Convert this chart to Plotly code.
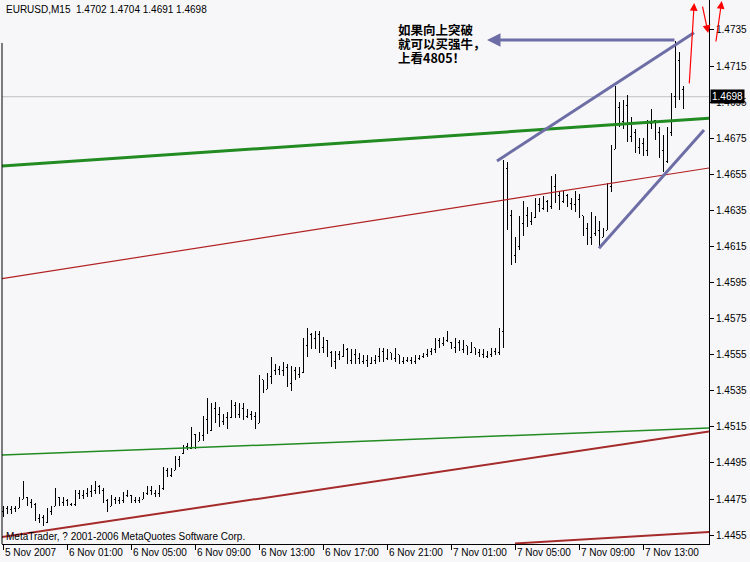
import pandas as pd
import plotly.graph_objects as go

# ---------------- data (EURUSD M15, bars from 5 Nov 2007 21:00) ----------------
start_time = "2007-11-05 21:00"

opens = [
    1.4468,1.4470,1.4469,1.4470,1.4470,1.4475,1.4476,1.4473,1.4472,1.4464,
    1.4465,1.4462,1.4468,1.4471,1.4476,1.4473,1.4474,1.4472,1.4472,1.4478,
    1.4477,1.4478,1.4479,1.4480,1.4482,1.4480,1.4474,1.4471,1.4475,1.4474,
    1.4474,1.4477,1.4477,1.4474,1.4474,1.4475,1.4478,1.4480,1.4478,1.4478,
    1.4481,1.4491,1.4488,1.4491,1.4497,1.4500,1.4504,1.4503,1.4511,1.4507,
    1.4510,1.4519,1.4513,1.4525,1.4522,1.4518,1.4520,1.4520,1.4527,1.4522,
    1.4525,1.4521,1.4522,1.4521,1.4517,1.4541,1.4536,1.4543,1.4546,1.4547,
    1.4546,1.4548,1.4539,1.4546,1.4544,1.4545,1.4560,1.4566,1.4564,1.4566,
    1.4559,1.4563,1.4556,1.4551,1.4555,1.4554,1.4558,1.4552,1.4555,1.4553,
    1.4551,1.4552,1.4550,1.4552,1.4554,1.4557,1.4553,1.4556,1.4553,1.4555,
    1.4551,1.4552,1.4552,1.4551,1.4553,1.4554,1.4555,1.4557,1.4558,1.4563,
    1.4561,1.4563,1.4562,1.4559,1.4562,1.4558,1.4560,1.4556,1.4559,1.4556,
    1.4555,1.4554,1.4555,1.4557,1.4556,1.4568,1.4658,1.4632,1.4610,1.4615,
    1.4628,1.4632,1.4629,1.4631,1.4638,1.4636,1.4640,1.4637,1.4648,1.4643,
    1.4640,1.4643,1.4639,1.4638,1.4641,1.4632,1.4625,1.4620,1.4622,1.4624,
    1.4620,1.4624,1.4648,1.4669,1.4692,1.4684,1.4693,1.4676,1.4678,1.4670,
    1.4672,1.4668,1.4683,1.4685,1.4678,1.4668,1.4662,1.4678,1.4698,1.4718,
    1.4702,
]
highs = [
    1.4471,1.4471,1.4471,1.4471,1.4476,1.4485,1.4476,1.4475,1.4473,1.4467,
    1.4466,1.4470,1.4471,1.4481,1.4476,1.4476,1.4475,1.4473,1.4480,1.4480,
    1.4480,1.4481,1.4483,1.4485,1.4483,1.4481,1.4475,1.4477,1.4476,1.4476,
    1.4479,1.4480,1.4477,1.4476,1.4476,1.4479,1.4482,1.4482,1.4480,1.4483,
    1.4493,1.4492,1.4492,1.4499,1.4499,1.4505,1.4506,1.4515,1.4511,1.4512,
    1.4521,1.4531,1.4528,1.4529,1.4526,1.4522,1.4523,1.4530,1.4529,1.4528,
    1.4528,1.4525,1.4524,1.4523,1.4544,1.4541,1.4545,1.4554,1.4550,1.4549,
    1.4551,1.4550,1.4549,1.4548,1.4548,1.4564,1.4570,1.4567,1.4568,1.4568,
    1.4565,1.4563,1.4557,1.4557,1.4557,1.4561,1.4559,1.4558,1.4558,1.4556,
    1.4555,1.4555,1.4554,1.4555,1.4559,1.4559,1.4558,1.4556,1.4559,1.4555,
    1.4554,1.4554,1.4554,1.4555,1.4555,1.4556,1.4558,1.4559,1.4564,1.4564,
    1.4565,1.4568,1.4562,1.4564,1.4563,1.4563,1.4560,1.4562,1.4559,1.4558,
    1.4558,1.4557,1.4559,1.4559,1.4570,1.4663,1.4662,1.4635,1.4620,1.4632,
    1.4640,1.4637,1.4634,1.4642,1.4642,1.4643,1.4641,1.4654,1.4655,1.4646,
    1.4646,1.4644,1.4642,1.4646,1.4644,1.4632,1.4628,1.4634,1.4632,1.4629,
    1.4625,1.4650,1.4671,1.4704,1.4695,1.4696,1.4699,1.4687,1.4680,1.4675,
    1.4675,1.4685,1.4691,1.4685,1.4681,1.4677,1.4681,1.4700,1.4729,1.4723,
    1.4704,
]
lows = [
    1.4465,1.4467,1.4467,1.4468,1.4470,1.4475,1.4471,1.4470,1.4463,1.4462,
    1.4460,1.4462,1.4466,1.4471,1.4471,1.4471,1.4471,1.4471,1.4471,1.4475,
    1.4475,1.4476,1.4476,1.4478,1.4478,1.4473,1.4468,1.4471,1.4472,1.4472,
    1.4473,1.4476,1.4473,1.4473,1.4473,1.4475,1.4477,1.4477,1.4476,1.4476,
    1.4480,1.4487,1.4487,1.4491,1.4493,1.4500,1.4502,1.4503,1.4503,1.4507,
    1.4507,1.4511,1.4513,1.4517,1.4515,1.4516,1.4514,1.4520,1.4520,1.4520,
    1.4519,1.4520,1.4519,1.4514,1.4517,1.4534,1.4536,1.4539,1.4544,1.4544,
    1.4543,1.4537,1.4535,1.4541,1.4542,1.4545,1.4554,1.4558,1.4558,1.4556,
    1.4556,1.4554,1.4548,1.4547,1.4552,1.4554,1.4550,1.4550,1.4550,1.4550,
    1.4550,1.4548,1.4550,1.4550,1.4551,1.4551,1.4552,1.4552,1.4551,1.4550,
    1.4550,1.4551,1.4550,1.4550,1.4552,1.4553,1.4554,1.4555,1.4556,1.4559,
    1.4560,1.4562,1.4558,1.4556,1.4557,1.4556,1.4555,1.4556,1.4555,1.4554,
    1.4553,1.4553,1.4554,1.4555,1.4555,1.4559,1.4624,1.4605,1.4606,1.4613,
    1.4621,1.4626,1.4627,1.4631,1.4634,1.4635,1.4634,1.4636,1.4639,1.4635,
    1.4639,1.4637,1.4635,1.4634,1.4631,1.4621,1.4616,1.4616,1.4621,1.4615,
    1.4620,1.4624,1.4645,1.4669,1.4681,1.4680,1.4673,1.4673,1.4667,1.4666,
    1.4665,1.4665,1.4680,1.4674,1.4664,1.4656,1.4661,1.4676,1.4692,1.4696,
    1.4691,
]
closes = [
    1.4470,1.4469,1.4470,1.4470,1.4475,1.4478,1.4473,1.4472,1.4464,1.4465,
    1.4462,1.4468,1.4470,1.4477,1.4473,1.4474,1.4472,1.4472,1.4478,1.4477,
    1.4478,1.4479,1.4480,1.4482,1.4480,1.4474,1.4471,1.4475,1.4474,1.4474,
    1.4477,1.4477,1.4474,1.4474,1.4475,1.4478,1.4480,1.4478,1.4478,1.4481,
    1.4491,1.4488,1.4490,1.4497,1.4498,1.4504,1.4503,1.4512,1.4505,1.4510,
    1.4519,1.4513,1.4525,1.4522,1.4518,1.4520,1.4519,1.4527,1.4522,1.4525,
    1.4521,1.4522,1.4521,1.4517,1.4542,1.4536,1.4543,1.4546,1.4547,1.4546,
    1.4548,1.4539,1.4546,1.4544,1.4545,1.4560,1.4566,1.4564,1.4566,1.4559,
    1.4563,1.4556,1.4551,1.4555,1.4554,1.4558,1.4552,1.4555,1.4553,1.4551,
    1.4552,1.4550,1.4552,1.4554,1.4557,1.4553,1.4556,1.4553,1.4556,1.4551,
    1.4552,1.4552,1.4551,1.4553,1.4554,1.4555,1.4557,1.4558,1.4563,1.4561,
    1.4563,1.4565,1.4559,1.4562,1.4558,1.4561,1.4556,1.4560,1.4556,1.4555,
    1.4554,1.4555,1.4557,1.4556,1.4568,1.4658,1.4632,1.4610,1.4615,1.4628,
    1.4632,1.4629,1.4631,1.4638,1.4636,1.4640,1.4637,1.4648,1.4643,1.4640,
    1.4643,1.4639,1.4638,1.4641,1.4633,1.4625,1.4620,1.4622,1.4624,1.4617,
    1.4624,1.4648,1.4669,1.4692,1.4684,1.4693,1.4676,1.4678,1.4670,1.4672,
    1.4668,1.4683,1.4686,1.4678,1.4668,1.4662,1.4678,1.4698,1.4718,1.4702,
    1.4698,
]

x_tick_bars = [0, 16, 32, 48, 64, 80, 96, 112, 128, 144, 160]
x_tick_labels = ["5 Nov 2007", "6 Nov 01:00", "6 Nov 05:00", "6 Nov 09:00",
                 "6 Nov 13:00", "6 Nov 17:00", "6 Nov 21:00", "7 Nov 01:00",
                 "7 Nov 05:00", "7 Nov 09:00", "7 Nov 13:00"]
y_tick_values = [1.4455, 1.4475, 1.4495, 1.4515, 1.4535, 1.4555, 1.4575, 1.4595,
                 1.4615, 1.4635, 1.4655, 1.4675, 1.4695, 1.4715, 1.4735]
last_price = 1.4698
title_text = "EURUSD,M15\u00a0\u00a01.4702 1.4704 1.4691 1.4698"
copyright_text = "MetaTrader, ? 2001-2006 MetaQuotes Software Corp."
note_lines = ["如果向上突破", "就可以买强牛，", "上看4805！"]

# drawn trend lines: (bar index, price) -> (bar index, price)
green_thick = (-0.25, 1.46596, 176.5, 1.46861)
red_upper = (-0.25, 1.45972, 176.5, 1.46585)
green_thin = (-0.25, 1.44994, 176.5, 1.45144)
red_lower = (-0.25, 1.44540, 176.5, 1.45124)
red_bottom = (128, 1.44504, 176.5, 1.44567)
purple_upper = (123.5, 1.46624, 172.75, 1.47335)
purple_lower = (149, 1.46140, 175.25, 1.46796)
purple_arrow = (121, 1.47295, 168.25, 1.47295)   # head, tail
x_range_bars = (-0.25, 176.5)
y_range = (1.44501, 1.47516)

# ---------------- figure ----------------
base = pd.Timestamp(start_time)
step = pd.Timedelta(minutes=15)


def bt(k):
    return base + step * k


times = [bt(k) for k in range(len(opens))]
FONT = "Liberation Sans, Arial, sans-serif"
BG = "#F7F7FA"

fig = go.Figure()
fig.add_trace(go.Ohlc(
    x=times, open=opens, high=highs, low=lows, close=closes,
    increasing=dict(line=dict(color="black", width=1)),
    decreasing=dict(line=dict(color="black", width=1)),
    tickwidth=0.3, hoverinfo="skip", showlegend=False,
))


def add_line(seg, color, width):
    k0, p0, k1, p1 = seg
    fig.add_shape(type="line", xref="x", yref="y", x0=bt(k0), y0=p0,
                  x1=bt(k1), y1=p1, line=dict(color=color, width=width),
                  layer="above")


fig.add_shape(type="line", xref="paper", yref="y", x0=0, x1=1,
              y0=last_price, y1=last_price,
              line=dict(color="#C0C0C0", width=1), layer="below")
add_line(red_upper, "#B22222", 1.2)
add_line(green_thin, "#228B22", 1.5)
add_line(red_lower, "#A52A2A", 2)
add_line(red_bottom, "#A52A2A", 2)
add_line(green_thick, "#228B22", 3)
add_line(purple_upper, "#6E6EA6", 3)
add_line(purple_lower, "#6E6EA6", 3)

# left frame line
fig.add_shape(type="line", xref="paper", yref="paper", x0=0, x1=0, y0=0,
              y1=0.921, line=dict(color="black", width=1))

ann = []
# horizontal purple arrow
ann.append(dict(x=bt(purple_arrow[0]), y=purple_arrow[1], xref="x", yref="y",
                ax=bt(purple_arrow[2]), ay=purple_arrow[3], axref="x", ayref="y",
                showarrow=True, arrowhead=2, arrowsize=0.9, arrowwidth=3,
                arrowcolor="#6E6EA6", standoff=0, text=""))
# red arrows
ann.append(dict(x=bt(172.8), y=1.4750, xref="x", yref="y", ax=-5, ay=82,
                showarrow=True, arrowhead=2, arrowsize=1.3, arrowwidth=1.2,
                arrowcolor="#FF0000", standoff=0, text=""))
ann.append(dict(x=bt(176.3), y=1.47333, xref="x", yref="y", ax=-6, ay=-28,
                showarrow=True, arrowhead=2, arrowsize=1.3, arrowwidth=1.2,
                arrowcolor="#FF0000", standoff=0, text=""))
ann.append(dict(x=1.018, y=1.0, xref="paper", yref="paper", ax=-6, ay=43,
                showarrow=True, arrowhead=2, arrowsize=1.3, arrowwidth=1.2,
                arrowcolor="#FF0000", standoff=0, text=""))

# x tick labels, left aligned after the tick like MetaTrader
for k, lab in zip(x_tick_bars, x_tick_labels):
    ann.append(dict(x=bt(k), y=0, xref="x", yref="paper", text=lab,
                    showarrow=False, xanchor="left", yanchor="top",
                    xshift=0, yshift=-1,
                    font=dict(family=FONT, size=10, color="black")))

ann.append(dict(x=0.003, y=0.982, xref="paper", yref="paper", text=title_text,
                showarrow=False, xanchor="left", yanchor="middle",
                font=dict(family=FONT, size=10, color="black")))
ann.append(dict(x=0.003, y=0.013, xref="paper", yref="paper", text=copyright_text,
                showarrow=False, xanchor="left", yanchor="middle",
                font=dict(family=FONT, size=10, color="black")))
for line, yp in zip(note_lines, [0.9458, 0.9200, 0.8952]):
    ann.append(dict(x=0.5587, y=yp, xref="paper", yref="paper",
                    text="<b>" + line + "</b>", showarrow=False,
                    xanchor="left", yanchor="middle", borderpad=0,
                    font=dict(family="Noto Sans CJK SC", size=12.5, color="black")))
ann.append(dict(x=1, y=last_price, xref="paper", yref="y", text="%.4f" % last_price,
                showarrow=False, xanchor="left", yanchor="middle", xshift=1,
                bgcolor="black", borderpad=1,
                font=dict(family=FONT, size=10, color="white")))

fig.update_layout(
    width=750, height=562, autosize=False,
    margin=dict(l=2, r=41, t=0, b=18, pad=0),
    paper_bgcolor=BG, plot_bgcolor=BG,
    showlegend=False, annotations=ann, hovermode=False,
    xaxis=dict(type="date", range=[bt(x_range_bars[0]), bt(x_range_bars[1])],
               rangeslider=dict(visible=False), showgrid=False, zeroline=False,
               showline=True, linecolor="black", linewidth=1,
               tickvals=[bt(k) for k in x_tick_bars], showticklabels=False,
               ticks="outside", ticklen=5, tickcolor="black", tickwidth=1),
    yaxis=dict(side="right", range=list(y_range), showgrid=False, zeroline=False,
               showline=True, linecolor="black", linewidth=1,
               tickvals=y_tick_values, ticktext=["%.4f" % v for v in y_tick_values],
               ticks="outside", ticklen=4, tickcolor="black", tickwidth=1,
               tickfont=dict(family=FONT, size=10, color="black")),
)

post = (
    "document.body.style.margin='0px';"
    "document.body.style.background='%s';"
    "var st=document.createElement('style');"
    "st.innerHTML='.ohlclayer path, .trace.ohlc path{shape-rendering:crispEdges;}';"
    "document.head.appendChild(st);" % BG
)
fig.write_html("out.html", post_script=post, config={"displayModeBar": False})
